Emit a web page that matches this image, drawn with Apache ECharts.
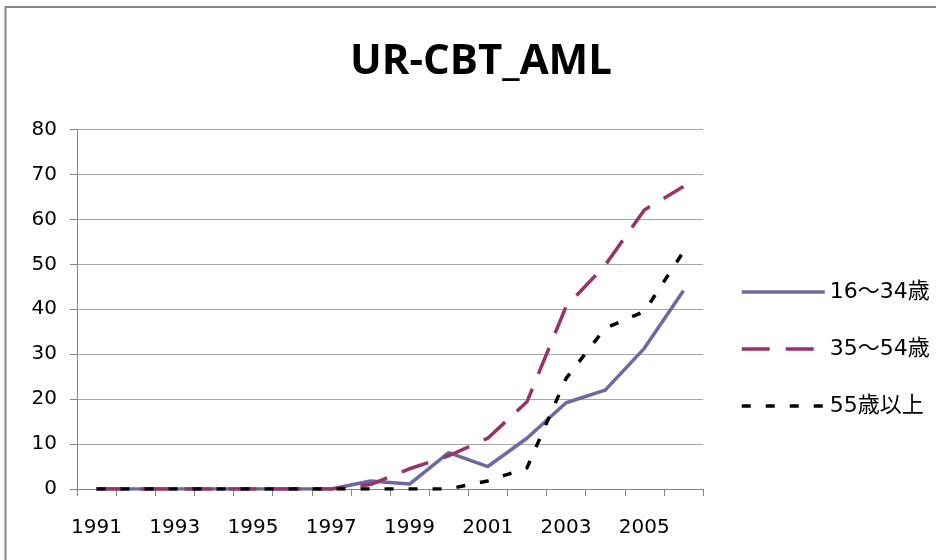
<!DOCTYPE html>
<html>
<head>
<meta charset="utf-8">
<title>UR-CBT_AML</title>
<script src="https://cdn.jsdelivr.net/npm/echarts@6/dist/echarts.min.js"></script>
<style>
  html, body { margin: 0; padding: 0; background: #fff; }
  #main { width: 936px; height: 560px; }
</style>
</head>
<body>
<div id="main"></div>
<script>
// 年（カテゴリ）
var years = ['1991', '1992', '1993', '1994', '1995', '1996', '1997', '1998',
             '1999', '2000', '2001', '2002', '2003', '2004', '2005', '2006'];

// 各年齢層の値
var age16to34 = [0, 0, 0, 0, 0, 0, 0, 1.8, 1.1, 8.1, 5.0, 11.3, 19.2, 22.0, 31.3, 44.1];
var age35to54 = [0, 0, 0, 0, 0, 0, 0, 1.0, 4.5, 7.4, 11.3, 19.4, 40.6, 49.8, 62.1, 67.3];
var age55plus = [0, 0, 0, 0, 0, 0, 0, 0, 0, 0, 1.8, 4.7, 24.6, 35.8, 39.5, 52.8];

var seriesNames = ['16～34歳', '35～54歳', '55歳以上'];

var labelFont = '"DejaVu Sans", "Noto Sans CJK JP", sans-serif';

var myChart = echarts.init(document.getElementById('main'));

var option = {
    backgroundColor: '#ffffff',
    animation: false,
    title: {
        text: 'UR-CBT_AML',
        left: 476,
        textAlign: 'center',
        top: 36,
        textStyle: {
            fontFamily: '"Open Sans", sans-serif',
            fontWeight: 'bold',
            fontSize: 42,
            color: '#000'
        }
    },
    graphic: [{
        type: 'rect',
        shape: { x: 5.5, y: 7, width: 1000, height: 700 },
        style: { fill: 'none', stroke: '#868686', lineWidth: 2 },
        silent: true
    }],
    legend: {
        orient: 'vertical',
        left: 740,
        top: 281,
        padding: 0,
        itemWidth: 83,
        itemHeight: 24,
        itemGap: 35,
        itemStyle: { opacity: 0 },
        lineStyle: { width: 3.5 },
        textStyle: {
            fontFamily: labelFont,
            fontSize: 22,
            color: '#000'
        },
        data: seriesNames
    },
    grid: {
        left: 77,
        top: 129.5,
        right: 233,
        bottom: 71,
        containLabel: false
    },
    xAxis: {
        type: 'category',
        data: years,
        boundaryGap: true,
        axisLine: { lineStyle: { color: '#868686', width: 1 } },
        axisTick: { show: true, interval: 0, length: 7, lineStyle: { color: '#868686' } },
        axisLabel: {
            interval: 1,
            margin: 29,
            fontFamily: labelFont,
            fontSize: 20,
            color: '#000'
        },
        splitLine: { show: false }
    },
    yAxis: {
        type: 'value',
        min: 0,
        max: 80,
        interval: 10,
        axisLine: { show: true, lineStyle: { color: '#868686', width: 1 } },
        axisTick: { show: true, length: 7, lineStyle: { color: '#868686' } },
        axisLabel: {
            margin: 20,
            fontFamily: labelFont,
            fontSize: 20,
            color: '#000'
        },
        splitLine: { show: true, lineStyle: { color: '#a6a6a6', width: 1 } }
    },
    series: [
        {
            name: seriesNames[0],
            type: 'line',
            data: age16to34,
            symbol: 'none',
            color: '#6a6aa2',
            lineStyle: { color: '#6a6aa2', width: 3.5, type: 'solid' }
        },
        {
            name: seriesNames[1],
            type: 'line',
            data: age35to54,
            symbol: 'none',
            color: '#993366',
            lineStyle: { color: '#993366', width: 3.5, type: [28, 16] }
        },
        {
            name: seriesNames[2],
            type: 'line',
            data: age55plus,
            symbol: 'none',
            color: '#000000',
            lineStyle: { color: '#000000', width: 3.5, type: [9, 15] }
        }
    ]
};

myChart.setOption(option);
</script>
</body>
</html>
